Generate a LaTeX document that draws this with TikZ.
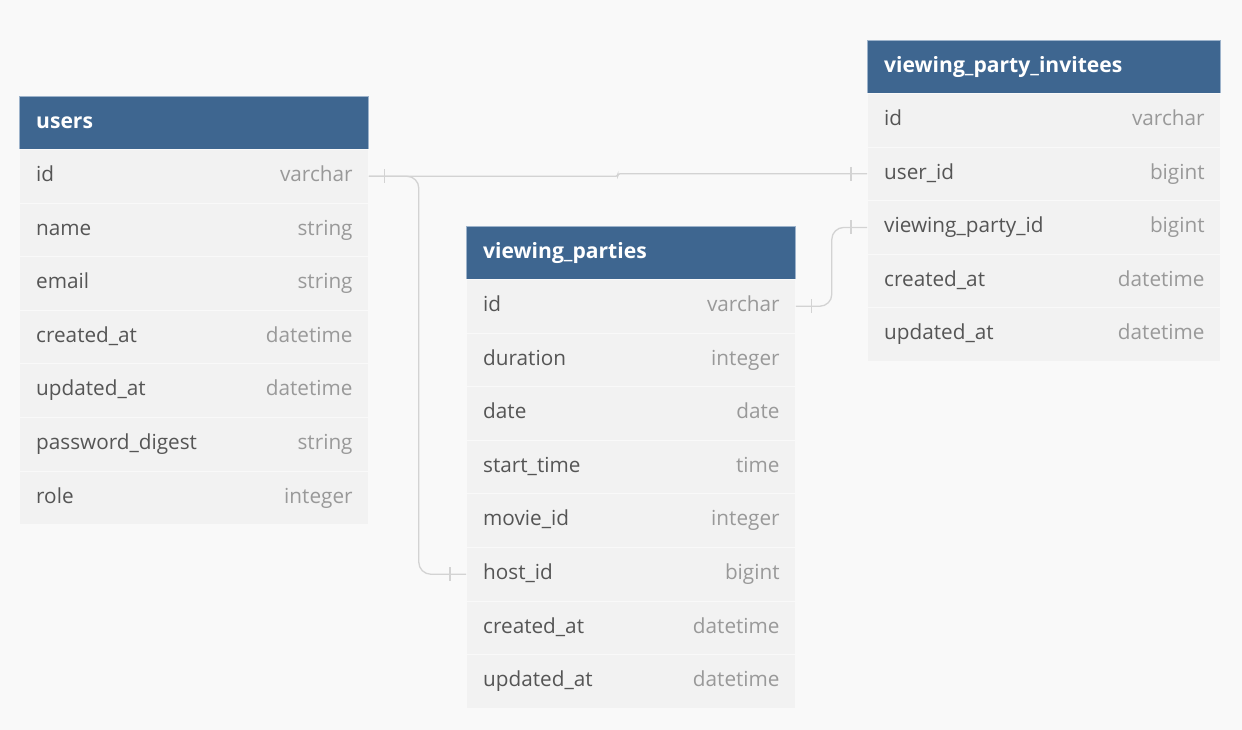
\documentclass[tikz,border=0pt]{standalone}
\usepackage{fontspec}
\setmainfont{Open Sans}
\usetikzlibrary{calc,positioning}
\definecolor{canvas}{HTML}{F9F9F9}
\definecolor{hdrblue}{HTML}{3E6690}
\definecolor{hdredge}{HTML}{9DB3CB}
\definecolor{rowgray}{HTML}{F2F2F2}
\definecolor{rowline}{HTML}{F9F9F9}
\definecolor{fieldtxt}{HTML}{555555}
\definecolor{typetxt}{HTML}{999999}
\definecolor{linkgray}{HTML}{D3D3D3}
\newcommand{\linkbar}[2]{\draw[link] ($(#1)+(#2,-7)$) -- ++(0,14);}

\begin{document}
\begin{tikzpicture}[x=0.02cm,y=-0.02cm,
  font=\fontsize{11.8}{14}\selectfont,
  hdr/.style={draw=hdredge,line width=0.4pt,fill=hdrblue,minimum height=1.06cm,
              anchor=north west,inner sep=0pt},
  row/.style={draw=rowline,line width=0.5pt,fill=rowgray,minimum height=1.072cm,
              anchor=north west,inner sep=0pt},
  title/.style={anchor=west,text=white,font=\fontsize{12}{14}\bfseries\selectfont,
                xshift=0.22cm,text height=9pt,text depth=3pt},
  fname/.style={anchor=west,text=fieldtxt,xshift=0.22cm,text height=9pt,text depth=3pt},
  ftype/.style={anchor=east,text=typetxt,xshift=-0.2cm,text height=9pt,text depth=3pt},
  link/.style={draw=linkgray,line width=0.75pt}]

\fill[canvas] (0,0) rectangle (1242,730);

%─── users ───────────────────────────────────────────────────────────────────
\node[hdr,minimum width=6.98cm] (users) at (19,96) {};
\node[title] (users-t) at (users.west) {users};
\node[row,minimum width=6.98cm] (u1) at (19,149) {};
\node[fname] (u1n) at (u1.west) {id};              \node[ftype] (u1t) at (u1.east) {varchar};
\node[row,minimum width=6.98cm] (u2) at (19,202.6) {};
\node[fname] (u2n) at (u2.west) {name};            \node[ftype] (u2t) at (u2.east) {string};
\node[row,minimum width=6.98cm] (u3) at (19,256.2) {};
\node[fname] (u3n) at (u3.west) {email};           \node[ftype] (u3t) at (u3.east) {string};
\node[row,minimum width=6.98cm] (u4) at (19,309.8) {};
\node[fname] (u4n) at (u4.west) {created\_at};     \node[ftype] (u4t) at (u4.east) {datetime};
\node[row,minimum width=6.98cm] (u5) at (19,363.4) {};
\node[fname] (u5n) at (u5.west) {updated\_at};     \node[ftype] (u5t) at (u5.east) {datetime};
\node[row,minimum width=6.98cm] (u6) at (19,417) {};
\node[fname] (u6n) at (u6.west) {password\_digest};\node[ftype] (u6t) at (u6.east) {string};
\node[row,minimum width=6.98cm] (u7) at (19,470.6) {};
\node[fname] (u7n) at (u7.west) {role};            \node[ftype] (u7t) at (u7.east) {integer};

%─── viewing_parties ─────────────────────────────────────────────────────────
\node[hdr,minimum width=6.58cm] (parties) at (466,226) {};
\node[title] (parties-t) at (parties.west) {viewing\_parties};
\node[row,minimum width=6.58cm] (p1) at (466,279) {};
\node[fname] (p1n) at (p1.west) {id};              \node[ftype] (p1t) at (p1.east) {varchar};
\node[row,minimum width=6.58cm] (p2) at (466,332.6) {};
\node[fname] (p2n) at (p2.west) {duration};        \node[ftype] (p2t) at (p2.east) {integer};
\node[row,minimum width=6.58cm] (p3) at (466,386.2) {};
\node[fname] (p3n) at (p3.west) {date};            \node[ftype] (p3t) at (p3.east) {date};
\node[row,minimum width=6.58cm] (p4) at (466,439.8) {};
\node[fname] (p4n) at (p4.west) {start\_time};     \node[ftype] (p4t) at (p4.east) {time};
\node[row,minimum width=6.58cm] (p5) at (466,493.4) {};
\node[fname] (p5n) at (p5.west) {movie\_id};       \node[ftype] (p5t) at (p5.east) {integer};
\node[row,minimum width=6.58cm] (p6) at (466,547) {};
\node[fname] (p6n) at (p6.west) {host\_id};        \node[ftype] (p6t) at (p6.east) {bigint};
\node[row,minimum width=6.58cm] (p7) at (466,600.6) {};
\node[fname] (p7n) at (p7.west) {created\_at};     \node[ftype] (p7t) at (p7.east) {datetime};
\node[row,minimum width=6.58cm] (p8) at (466,654.2) {};
\node[fname] (p8n) at (p8.west) {updated\_at};     \node[ftype] (p8t) at (p8.east) {datetime};

%─── viewing_party_invitees ──────────────────────────────────────────────────
\node[hdr,minimum width=7.06cm] (invitees) at (867,40) {};
\node[title] (invitees-t) at (invitees.west) {viewing\_party\_invitees};
\node[row,minimum width=7.06cm] (i1) at (867,93) {};
\node[fname] (i1n) at (i1.west) {id};              \node[ftype] (i1t) at (i1.east) {varchar};
\node[row,minimum width=7.06cm] (i2) at (867,146.6) {};
\node[fname] (i2n) at (i2.west) {user\_id};        \node[ftype] (i2t) at (i2.east) {bigint};
\node[row,minimum width=7.06cm] (i3) at (867,200.2) {};
\node[fname] (i3n) at (i3.west) {viewing\_party\_id};\node[ftype] (i3t) at (i3.east) {bigint};
\node[row,minimum width=7.06cm] (i4) at (867,253.8) {};
\node[fname] (i4n) at (i4.west) {created\_at};     \node[ftype] (i4t) at (i4.east) {datetime};
\node[row,minimum width=7.06cm] (i5) at (867,307.4) {};
\node[fname] (i5n) at (i5.west) {updated\_at};     \node[ftype] (i5t) at (i5.east) {datetime};

%─── relations ───────────────────────────────────────────────────────────────
\draw[link,rounded corners=0.04cm] (u1.east) -- ++(249,0) |- (i2.west);
\draw[link,rounded corners=0.24cm] (u1.east) -- ++(50,0) |- (p6.west);
\draw[link,rounded corners=0.24cm] (p1.east) -- ++(36,0) |- (i3.west);
\linkbar{u1.east}{16}
\linkbar{i2.west}{-16}
\linkbar{p6.west}{-16}
\linkbar{p1.east}{16}
\linkbar{i3.west}{-16}

\end{tikzpicture}
\end{document}
